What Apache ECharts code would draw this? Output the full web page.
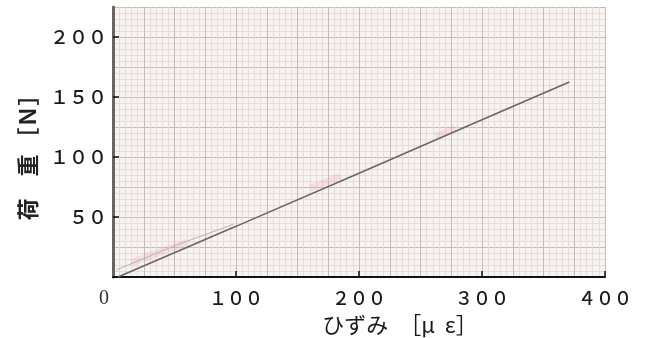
<!DOCTYPE html>
<html>
<head>
<meta charset="utf-8">
<script src="https://cdn.jsdelivr.net/npm/echarts@6/dist/echarts.min.js"></script>
<style>html,body{margin:0;padding:0;background:#fff}#c{width:653px;height:338px}</style>
</head>
<body>
<div id="c"></div>
<script>
// ---- data ----
var xTicks = [0, 100, 200, 300, 400];
var yTicks = [50, 100, 150, 200];
var fitLine = [[4, 0], [100, 42.2], [200, 86.5], [300, 131], [371, 162.5]];
var faintLine = [[3, 6], [50, 26], [98, 44]];
var pinkMarks = [[15, 12], [60, 29], null, [160, 74], [185, 84], null, [262, 117], [278, 124]];

var fullWidth = function (v) {
  return String(v).replace(/[0-9]/g, function (d) { return String.fromCharCode(d.charCodeAt(0) + 0xFEE0); });
};

var chart = echarts.init(document.getElementById('c'), null, {renderer: 'canvas'});
chart.setOption({
  animation: false,
  backgroundColor: '#ffffff',
  grid: {left: 113, right: 48, top: 7, bottom: 61, show: true, backgroundColor: '#f7f3f0', borderWidth: 0},
  xAxis: [{
    type: 'value', min: 0, max: 400, interval: 100,
    axisLine: {show: true, onZero: false, lineStyle: {color: '#111', width: 2}},
    axisTick: {show: true, inside: true, length: 6, customValues: [100, 200, 300, 400], lineStyle: {color: '#111', width: 1.5}},
    splitLine: {show: false},
    axisLabel: {
      customValues: xTicks, margin: 12,
      fontFamily: 'Noto Sans CJK JP', fontSize: 18, fontWeight: 500, color: '#1a1a1a',
      formatter: function (v) { return v === 0 ? '{z|0}' : fullWidth(v); },
      rich: {z: {fontFamily: 'Liberation Serif', fontSize: 20, fontWeight: 'normal', color: '#333', padding: [0, 18, 4, 0]}}
    }
  }, {
    type: 'value', min: 0, max: 400, interval: 25, show: true,
    axisLine: {show: false}, axisTick: {show: false}, axisLabel: {show: false},
    splitLine: {show: true, lineStyle: {color: '#c4bcb8', width: 1}},
    minorTick: {show: false, splitNumber: 5},
    minorSplitLine: {show: true, lineStyle: {color: '#e6dcd8', width: 1}}
  }],
  yAxis: [{
    type: 'value', min: 0, max: 225, interval: 50,
    axisLine: {show: true, lineStyle: {color: '#666', width: 3}},
    axisTick: {show: true, inside: true, length: 6, customValues: yTicks, lineStyle: {color: '#111', width: 1.5}},
    splitLine: {show: false},
    axisLabel: {
      customValues: yTicks, margin: 6,
      fontFamily: 'Noto Sans CJK JP', fontSize: 19, fontWeight: 500, color: '#1a1a1a',
      formatter: function (v) { return fullWidth(v); }
    }
  }, {
    type: 'value', min: 0, max: 225, interval: 25, show: true,
    axisLine: {show: false}, axisTick: {show: false}, axisLabel: {show: false},
    splitLine: {show: true, lineStyle: {color: '#c4bcb8', width: 1}},
    minorTick: {show: false, splitNumber: 5},
    minorSplitLine: {show: true, lineStyle: {color: '#e6dcd8', width: 1}}
  }],
  graphic: [{
    type: 'text', x: 28, y: 152, rotation: Math.PI / 2,
    style: {text: '荷　重 ［Ｎ］', fontFamily: 'Noto Sans CJK JP', fontSize: 22, fontWeight: 'bold', fill: '#222', align: 'center', verticalAlign: 'middle'}
  }, {
    type: 'text', x: 400, y: 325,
    style: {text: 'ひずみ　［μ  ε］', fontFamily: 'Noto Sans CJK JP', fontSize: 22, fill: '#1a1a1a', align: 'center', verticalAlign: 'middle'}
  }],
  series: [{
    type: 'line', name: 'pink', data: pinkMarks, showSymbol: false, connectNulls: false,
    lineStyle: {color: 'rgba(240,150,180,0.22)', width: 7}, z: 2, silent: true
  }, {
    type: 'line', name: 'faint', data: faintLine, showSymbol: false,
    lineStyle: {color: '#bbb4b0', width: 1}, z: 3, silent: true
  }, {
    type: 'line', name: 'fit', data: fitLine, showSymbol: false,
    lineStyle: {color: '#6a6664', width: 1.6}, z: 4, silent: true
  }]
});
</script>
</body>
</html>
